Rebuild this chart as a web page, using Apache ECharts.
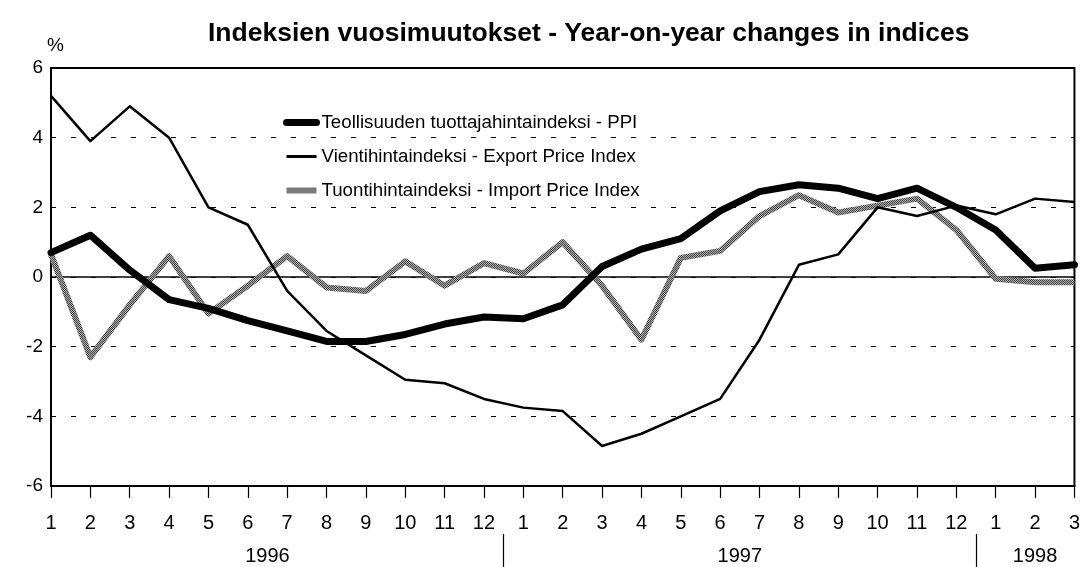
<!DOCTYPE html>
<html>
<head>
<meta charset="utf-8">
<script src="https://cdn.jsdelivr.net/npm/echarts@6/dist/echarts.min.js"></script>
<style>
html,body{margin:0;padding:0;background:#fff;}
#c{width:1083px;height:567px;}
</style>
</head>
<body>
<div id="c"></div>
<script>
const months = ['1','2','3','4','5','6','7','8','9','10','11','12','1','2','3','4','5','6','7','8','9','10','11','12','1','2','3'];
const years = ['1996','1997','1998'];
const yearCenters = [5.5, 17.5, 25];
const yearSeparators = [11.5, 23.5];
const yTicks = [-6, -4, -2, 0, 2, 4, 6];

const ppi = [0.7, 1.2, 0.2, -0.65, -0.9, -1.25, -1.55, -1.85, -1.85, -1.65, -1.35, -1.15,
             -1.2, -0.8, 0.3, 0.8, 1.1, 1.9, 2.45, 2.65, 2.55, 2.25, 2.55, 2.0,
             1.35, 0.25, 0.35];
const exportIdx = [5.2, 3.9, 4.9, 4.0, 2.0, 1.5, -0.4, -1.55, -2.25, -2.95, -3.05, -3.5,
                   -3.75, -3.85, -4.85, -4.5, -4.0, -3.5, -1.8, 0.35, 0.65, 2.0, 1.75, 2.05,
                   1.8, 2.25, 2.15];
const importIdx = [0.65, -2.3, -0.8, 0.6, -1.05, -0.25, 0.6, -0.3, -0.4, 0.45, -0.25, 0.4,
                   0.1, 1.0, -0.25, -1.8, 0.55, 0.75, 1.75, 2.35, 1.85, 2.05, 2.25, 1.35,
                   -0.05, -0.15, -0.15];

const names = ['Teollisuuden tuottajahintaindeksi - PPI', 'Vientihintaindeksi - Export Price Index', 'Tuontihintaindeksi - Import Price Index'];

// hatched gray pattern
const pc = document.createElement('canvas');
pc.width = 4; pc.height = 4;
const px = pc.getContext('2d');
px.fillStyle = '#aaaaaa'; px.fillRect(0,0,4,4);
px.fillStyle = '#484848';
px.fillRect(0,0,1,1); px.fillRect(2,0,1,1); px.fillRect(1,1,1,1); px.fillRect(3,1,1,1);
px.fillRect(0,2,1,1); px.fillRect(2,2,1,1); px.fillRect(1,3,1,1); px.fillRect(3,3,1,1);
const grayPattern = {image: pc, repeat: 'repeat'};

const font = '"Liberation Sans", Arial, sans-serif';
const chart = echarts.init(document.getElementById('c'), null, {renderer: 'canvas'});
chart.setOption({
  animation: false,
  backgroundColor: '#fff',
  title: {
    text: 'Indeksien vuosimuutokset - Year-on-year changes in indices',
    left: 203, top: 15,
    textStyle: {fontFamily: font, fontWeight: 'bold', fontSize: 26.5, color: '#000'}
  },
  legend: {
    orient: 'vertical', left: 283, top: 113, itemGap: 15, padding: 0,
    itemWidth: 30, itemHeight: 18,
    textStyle: {fontFamily: font, fontSize: 18.7, color: '#000'},
    itemStyle: {opacity: 0},
    data: [
      {name: names[0], lineStyle: {width: 7, color: '#000'}},
      {name: names[1], lineStyle: {width: 3, color: '#000'}},
      {name: names[2], lineStyle: {width: 6, color: grayPattern}}
    ]
  },
  grid: {left: 51, right: 6, top: 68, bottom: 81, show: true, borderColor: '#000', borderWidth: 2, backgroundColor: 'transparent'},
  xAxis: [{
    type: 'category', data: months, boundaryGap: false,
    axisLine: {show: true, onZero: false, lineStyle: {color: '#000', width: 2}},
    axisTick: {show: true, alignWithLabel: true, length: 12, lineStyle: {color: '#000', width: 1.2}},
    axisLabel: {margin: 27, fontFamily: font, fontSize: 20, color: '#000', interval: 0},
    splitLine: {show: false}
  }, {
    type: 'value', min: 0, max: 26, position: 'bottom', offset: 48,
    axisLine: {show: false, onZero: false},
    axisTick: {show: true, customValues: yearSeparators, length: 34, lineStyle: {color: '#000', width: 1.2}},
    axisLabel: {show: true, customValues: yearCenters, margin: 12, fontFamily: font, fontSize: 20, color: '#000',
      formatter: function (v) { const i = yearCenters.indexOf(v); return i >= 0 ? years[i] : ''; }},
    splitLine: {show: false}
  }],
  yAxis: {
    type: 'value', min: -6, max: 6, interval: 2,
    name: '%', nameGap: 13, nameTextStyle: {fontFamily: font, fontSize: 19, color: '#000', align: 'left', padding: [0,0,0,-4]},
    axisLine: {show: true, lineStyle: {color: '#000', width: 2}},
    axisTick: {show: false},
    axisLabel: {margin: 8, fontFamily: font, fontSize: 19, color: '#000',
      formatter: function (v) { return yTicks.indexOf(v) >= 0 ? String(v) : ''; }},
    splitLine: {show: true, lineStyle: {color: '#000', width: 1, type: [5, 15]}}
  },
  series: [{
    name: names[0], type: 'line', data: ppi, symbol: 'none', z: 4,
    lineStyle: {color: '#000', width: 7, cap: 'round', join: 'round'}, itemStyle: {color: '#000'},
    markLine: {silent: true, symbol: 'none', label: {show: false}, lineStyle: {color: '#000', width: 1.5, type: 'solid'}, data: [{yAxis: 0}], z: 1}
  }, {
    name: names[1], type: 'line', data: exportIdx, symbol: 'none', z: 5,
    lineStyle: {color: '#000', width: 2.5, join: 'round'}, itemStyle: {color: '#000'}
  }, {
    name: names[2], type: 'line', data: importIdx, symbol: 'none', z: 3,
    lineStyle: {color: grayPattern, width: 6, join: 'round'}, itemStyle: {color: '#888'}
  }]
});
</script>
</body>
</html>
